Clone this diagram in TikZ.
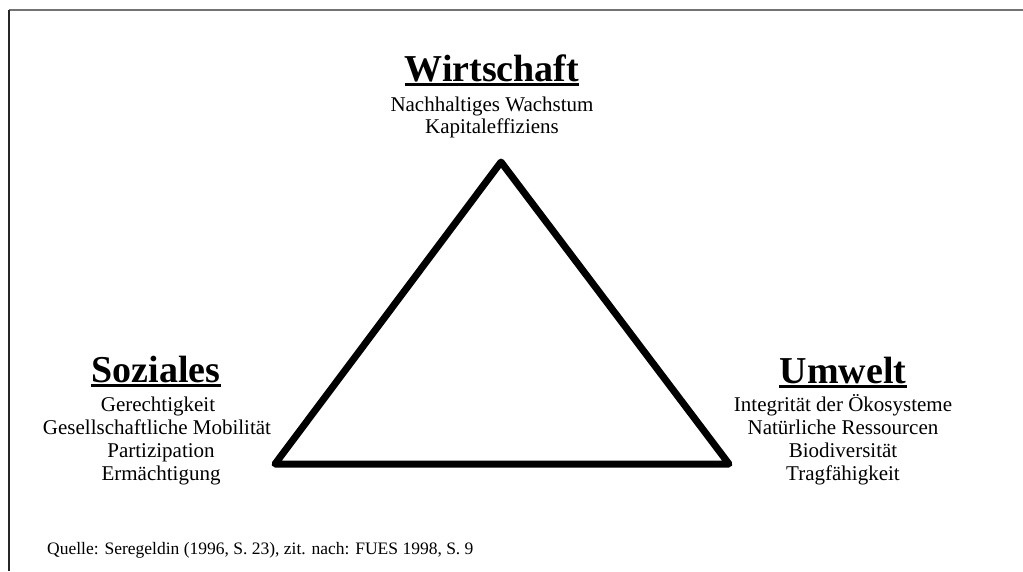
\documentclass[tikz,border=0pt]{standalone}
\usepackage{fontspec}
\setmainfont{Liberation Serif}
\begin{document}
\begin{tikzpicture}[x=1pt,y=-1pt,
  title/.style={font=\fontsize{38}{40}\selectfont\bfseries, inner sep=0pt, anchor=base},
  item/.style={font=\fontsize{21}{23}\selectfont, inner sep=0pt, anchor=base},
  uline/.style={line width=3pt},
  tri/.style={line width=7pt, line join=round}]
\useasboundingbox (0,0) rectangle (1023,571);
\fill[white] (0,0) rectangle (1023,571);
% frame
\coordinate (fc) at (9,9.5);
\coordinate (fr) at (1023,9.5);
\coordinate (fb) at (9,571);
\draw[black!55, line width=2pt] (fc) -- (fr);
\draw[black!85, line width=1.6pt] (fc) -- (fb);
% triangle
\coordinate (top) at (501,162);
\coordinate (bl) at (275,464);
\coordinate (br) at (729,464);
\draw[tri] (top) -- (bl) -- (br) -- cycle;
% Wirtschaft
\node[title] (w) at (492,81) {Wirtschaft};
\draw[uline] ([yshift=-3pt]w.base west) -- ([yshift=-3pt]w.base east);
\node[item] (w1) at (492,111) {Nachhaltiges Wachstum};
\node[item] (w2) at (492,133) {Kapitaleffiziens};
% Soziales
\node[title] (s) at (156,382) {Soziales};
\draw[uline] ([yshift=-3pt]s.base west) -- ([yshift=-3pt]s.base east);
\node[item] (s1) at (158,411) {Gerechtigkeit};
\node[item] (s2) at (157,434) {Gesellschaftliche Mobilität};
\node[item] (s3) at (161,457) {Partizipation};
\node[item] (s4) at (161,480) {Ermächtigung};
% Umwelt
\node[title] (u) at (843,383) {Umwelt};
\draw[uline] ([yshift=-3pt]u.base west) -- ([yshift=-3pt]u.base east);
\node[item] (u1) at (843,411) {Integrität der Ökosysteme};
\node[item] (u2) at (843,434) {Natürliche Ressourcen};
\node[item] (u3) at (843,457) {Biodiversität};
\node[item] (u4) at (843,480) {Tragfähigkeit};
% source
\node[font=\fontsize{17.5}{20}\selectfont, inner sep=0pt, anchor=base west] (q) at (47,554) {Quelle: Seregeldin (1996, S. 23), zit. nach: FUES 1998, S. 9};
\end{tikzpicture}
\end{document}
